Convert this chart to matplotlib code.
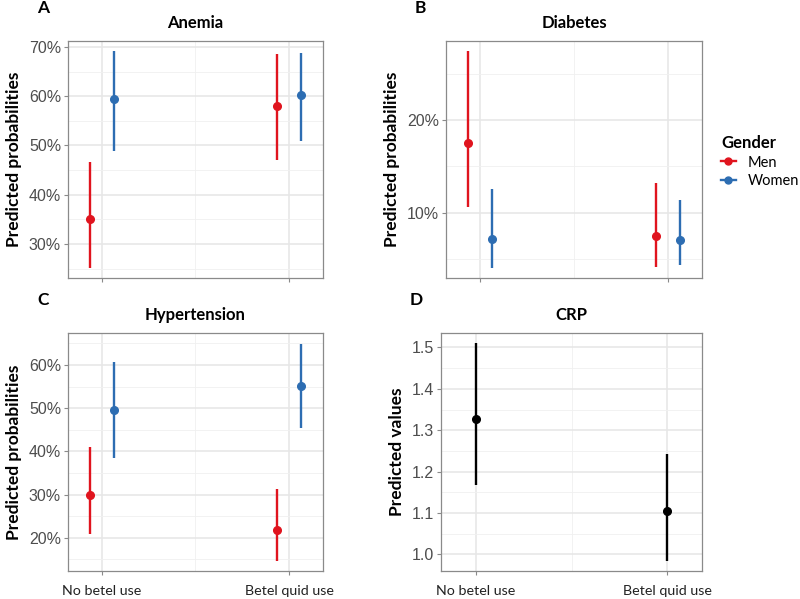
import matplotlib.pyplot as plt
from matplotlib.ticker import FuncFormatter, MultipleLocator
from matplotlib.lines import Line2D

# Data
groups = ['No betel use', 'Betel quid use']

anemia_men = [0.351, 0.581]
anemia_men_lo = [0.252, 0.470]
anemia_men_hi = [0.466, 0.686]
anemia_women = [0.594, 0.602]
anemia_women_lo = [0.488, 0.510]
anemia_women_hi = [0.692, 0.688]

diab_men = [0.175, 0.075]
diab_men_lo = [0.106, 0.042]
diab_men_hi = [0.274, 0.132]
diab_women = [0.072, 0.071]
diab_women_lo = [0.041, 0.044]
diab_women_hi = [0.126, 0.114]

hyp_men = [0.300, 0.219]
hyp_men_lo = [0.208, 0.147]
hyp_men_hi = [0.411, 0.312]
hyp_women = [0.496, 0.552]
hyp_women_lo = [0.384, 0.455]
hyp_women_hi = [0.608, 0.648]

crp = [1.327, 1.106]
crp_lo = [1.168, 0.984]
crp_hi = [1.511, 1.242]

RED = '#E0141E'
BLUE = '#2D6DB2'
W, H = 800, 599

fig = plt.figure(figsize=(8, 5.99), dpi=100)


def make_ax(left, right, top, bottom):
    return fig.add_axes([left / W, 1 - bottom / H, (right - left) / W, (bottom - top) / H])


def style(ax, ylim, major, minor, pct, title, letter, ylabel, xlabels):
    ax.set_xlim(0.82, 2.18)
    ax.set_ylim(*ylim)
    ax.yaxis.set_major_locator(MultipleLocator(major))
    ax.yaxis.set_minor_locator(MultipleLocator(minor))
    ax.set_xticks([1, 2])
    ax.set_xticks([1.5], minor=True)
    if pct:
        ax.yaxis.set_major_formatter(FuncFormatter(lambda v, p: f'{v * 100:.0f}%'))
    else:
        ax.yaxis.set_major_formatter(FuncFormatter(lambda v, p: f'{v:.1f}'))
    ax.grid(which='major', color='#e6e6e6', lw=1.1, zorder=0)
    ax.grid(which='minor', color='#f0f0f0', lw=0.6, zorder=0)
    ax.set_axisbelow(True)
    for s in ax.spines.values():
        s.set_color('#8a8a8a')
        s.set_linewidth(0.9)
    ax.tick_params(which='major', length=3, color='#8a8a8a', labelsize=11.5,
                   labelcolor='#4d4d4d', pad=2)
    ax.tick_params(which='minor', length=0)
    for t in ax.get_yticklabels():
        t.set_family('Liberation Sans')
    if xlabels:
        ax.set_xticklabels(groups, family='Lato', fontsize=10.3, color='#222222')
        ax.tick_params(axis='x', pad=7)
    else:
        ax.set_xticklabels([])
    ax.set_title(title, family='Lato', fontweight='bold', fontsize=12, pad=9)
    ax.set_ylabel(ylabel, family='Lato', fontweight='bold', fontsize=12.5, labelpad=5)
    pos = ax.get_position()
    fig.text(pos.x0 - 31 / W, pos.y1 + 33 / H, letter, family='Lato',
             fontweight='bold', fontsize=12.5, ha='left', va='center')


def draw_gender(ax, men, mlo, mhi, women, wlo, whi):
    d = 0.063
    for vals, lo, hi, col, off in [(men, mlo, mhi, RED, -d), (women, wlo, whi, BLUE, d)]:
        xs = [i + 1 + off for i in range(len(vals))]
        ax.vlines(xs, lo, hi, color=col, lw=1.7, zorder=3)
        ax.plot(xs, vals, 'o', color=col, ms=5.5, zorder=4)


axA = make_ax(68, 323, 41, 278)
draw_gender(axA, anemia_men, anemia_men_lo, anemia_men_hi,
            anemia_women, anemia_women_lo, anemia_women_hi)
style(axA, (0.231, 0.712), 0.1, 0.05, True, 'Anemia', 'A', 'Predicted probabilities', False)

axB = make_ax(446, 702, 41, 278)
draw_gender(axB, diab_men, diab_men_lo, diab_men_hi,
            diab_women, diab_women_lo, diab_women_hi)
style(axB, (0.030, 0.285), 0.1, 0.05, True, 'Diabetes', 'B', 'Predicted probabilities', False)

axC = make_ax(68, 323, 333, 571)
draw_gender(axC, hyp_men, hyp_men_lo, hyp_men_hi,
            hyp_women, hyp_women_lo, hyp_women_hi)
style(axC, (0.123, 0.674), 0.1, 0.05, True, 'Hypertension', 'C', 'Predicted probabilities', True)

axD = make_ax(441, 702, 333, 571)
xs = [1, 2]
axD.vlines(xs, crp_lo, crp_hi, color='black', lw=1.7, zorder=3)
axD.plot(xs, crp, 'o', color='black', ms=5.5, zorder=4)
style(axD, (0.96, 1.535), 0.1, 0.05, False, 'CRP', 'D', 'Predicted values', True)

handles = [Line2D([0], [0], color=RED, marker='o', lw=1.7, ms=5),
           Line2D([0], [0], color=BLUE, marker='o', lw=1.7, ms=5)]
leg = fig.legend(handles, ['Men', 'Women'], title='Gender', loc='upper left',
                 bbox_to_anchor=(708 / W, 1 - 122 / H), frameon=False,
                 handlelength=1.0, handletextpad=0.8, labelspacing=0.3,
                 prop={'family': 'Lato', 'size': 10.5})
leg.get_title().set_fontfamily('Lato')
leg.get_title().set_fontweight('bold')
leg.get_title().set_fontsize(12)
leg._legend_box.align = 'left'

fig.savefig('out.png', dpi=100)
